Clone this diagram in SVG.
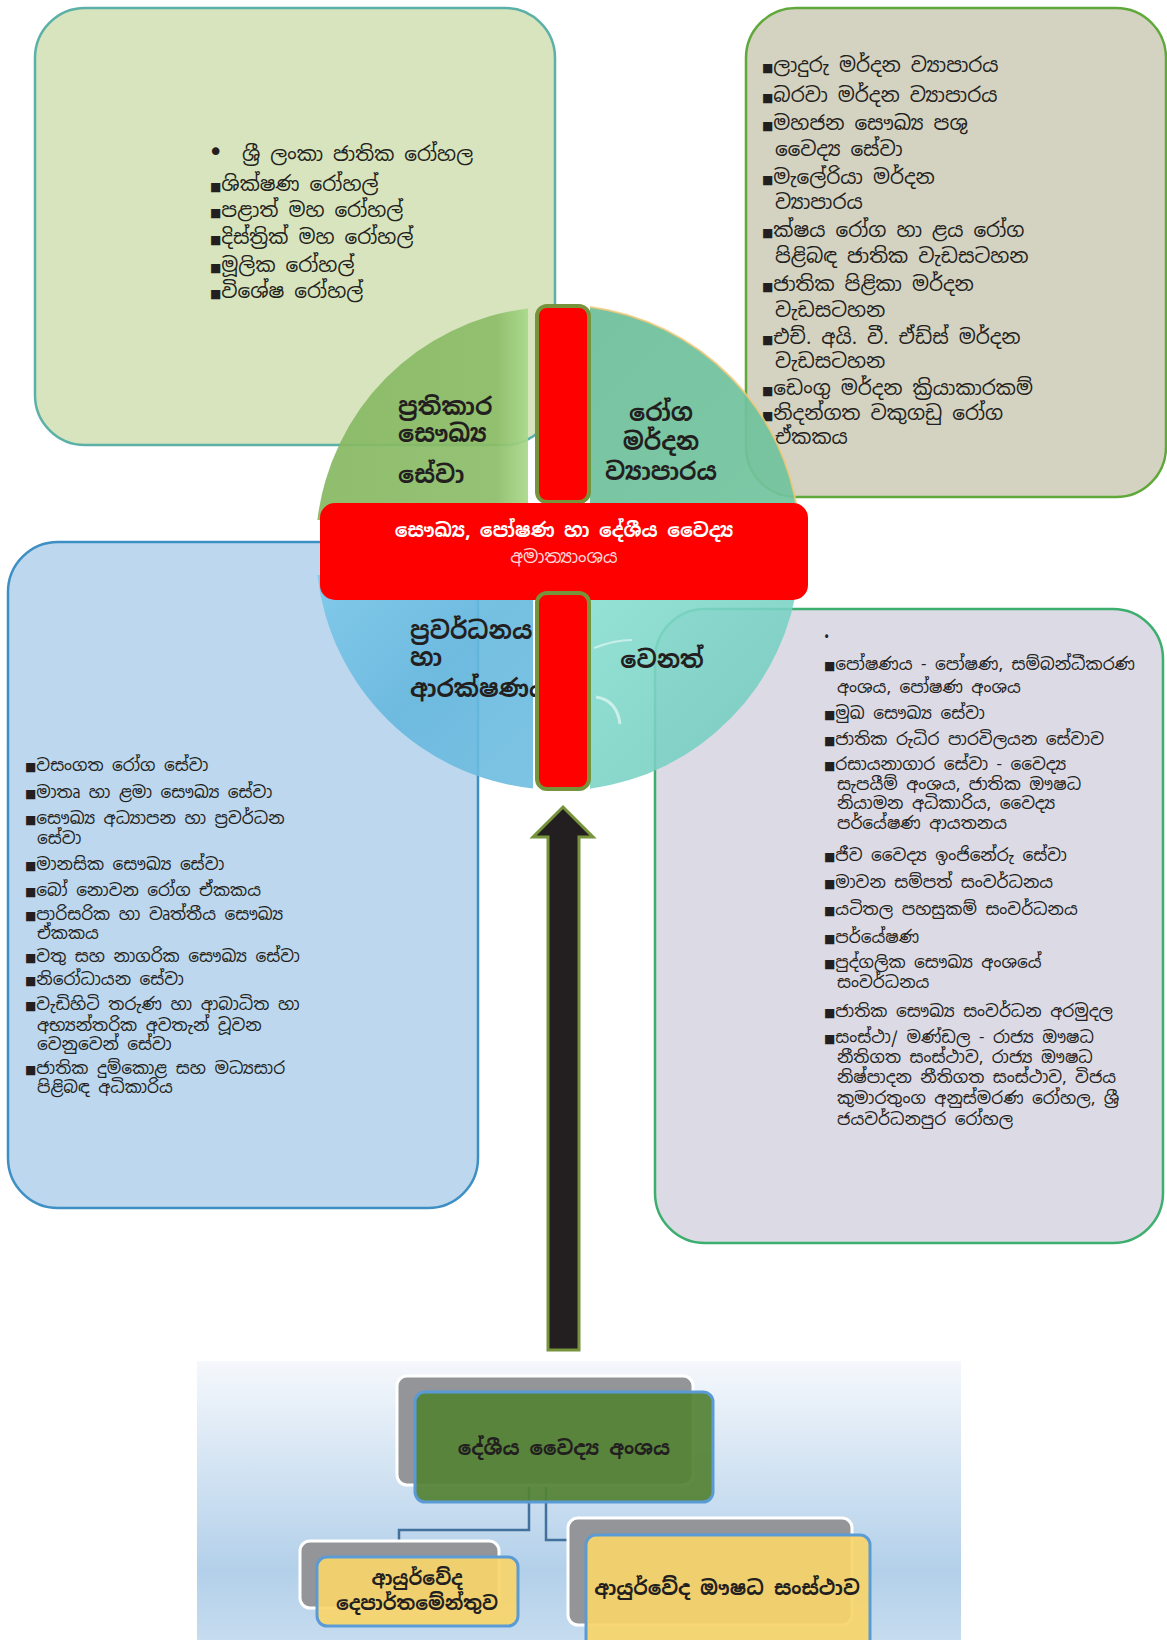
<svg xmlns="http://www.w3.org/2000/svg" width="1167" height="1640" viewBox="0 0 1167 1640">
<style>
.t{font-family:"Noto Sans Sinhala","Iskoola Pota","Noto Sans","DejaVu Sans",sans-serif;fill:#231f20}
.s20{font-size:20px}
.s17{font-size:17px}
.b{font-weight:bold}
.lbl{font-size:24px;font-weight:bold}
.sq{font-size:12px;font-family:"DejaVu Sans",sans-serif}
.conn{fill:none;stroke:#41719c;stroke-width:2.5}
.gray{fill:#939598;stroke:#ffffff;stroke-width:3}
.yel{fill:#f7d46a;fill-opacity:0.93;stroke:#5b9bd5;stroke-width:3}
.vbar{fill:#ff0000;stroke:#77933c;stroke-width:4}
</style>
<defs>
<linearGradient id="bgGrad" x1="0" y1="0" x2="0" y2="1">
<stop offset="0" stop-color="#f5f8fc"/>
<stop offset="0.75" stop-color="#b3d0ea"/>
<stop offset="1" stop-color="#c6dcef"/>
</linearGradient>
<linearGradient id="gTL" x1="0" y1="0" x2="1" y2="0">
<stop offset="0" stop-color="#86b862"/>
<stop offset="0.85" stop-color="#8cbd68"/>
<stop offset="1" stop-color="#a8d98a"/>
</linearGradient>
<linearGradient id="gTR" x1="0" y1="0" x2="1" y2="1">
<stop offset="0" stop-color="#6cbf9a"/>
<stop offset="1" stop-color="#72c49e"/>
</linearGradient>
<linearGradient id="gBL" x1="0" y1="0" x2="1" y2="1">
<stop offset="0" stop-color="#7cc8ea"/>
<stop offset="0.5" stop-color="#66b8de"/>
<stop offset="1" stop-color="#6fbde0"/>
</linearGradient>
<linearGradient id="gBR" x1="0" y1="0" x2="1" y2="1">
<stop offset="0" stop-color="#86ded0"/>
<stop offset="1" stop-color="#6fc8bb"/>
</linearGradient>
</defs>
<rect width="1167" height="1640" fill="#ffffff"/>

<g id="box-curative">
<rect x="35" y="8" width="520" height="437" rx="50" fill="#d7e4bd" stroke="#5bb0a8" stroke-width="2.5"/>
<text class="t s20"><tspan x="208" y="161" font-size="26" font-family="DejaVu Sans, sans-serif">•</tspan><tspan x="242" y="161">ශ්‍රී ලංකා ජාතික රෝහල</tspan></text>
<text class="t s20" x="210" y="191"><tspan class="sq">■</tspan>ශික්ෂණ රෝහල්</text>
<text class="t s20" x="210" y="217"><tspan class="sq">■</tspan>පළාත් මහ රෝහල්</text>
<text class="t s20" x="210" y="244"><tspan class="sq">■</tspan>දිස්ත්‍රික් මහ රෝහල්</text>
<text class="t s20" x="210" y="272"><tspan class="sq">■</tspan>මූලික රෝහල්</text>
<text class="t s20" x="210" y="298"><tspan class="sq">■</tspan>විශේෂ රෝහල්</text>
</g>

<g id="box-disease-control">
<rect x="746" y="8" width="420" height="489" rx="50" fill="#d4d2c0" stroke="#5fa83a" stroke-width="2.5"/>
<text class="t s20" x="762" y="72"><tspan class="sq">■</tspan>ලාදුරු මර්දන ව්‍යාපාරය</text>
<text class="t s20" x="762" y="102"><tspan class="sq">■</tspan>බරවා මර්දන ව්‍යාපාරය</text>
<text class="t s20" x="762" y="130"><tspan class="sq">■</tspan>මහජන සෞඛ්‍ය පශු</text>
<text class="t s20" x="775" y="156">වෛද්‍ය සේවා</text>
<text class="t s20" x="762" y="184"><tspan class="sq">■</tspan>මැලේරියා මර්දන</text>
<text class="t s20" x="775" y="209">ව්‍යාපාරය</text>
<text class="t s20" x="762" y="237"><tspan class="sq">■</tspan>ක්ෂය රෝග හා ළය රෝග</text>
<text class="t s20" x="775" y="263">පිළිබඳ ජාතික වැඩසටහන</text>
<text class="t s20" x="762" y="291"><tspan class="sq">■</tspan>ජාතික පිළිකා මර්දන</text>
<text class="t s20" x="775" y="317">වැඩසටහන</text>
<text class="t s20" x="762" y="344"><tspan class="sq">■</tspan>එච්. අයි. වී. ඒඩ්ස් මර්දන</text>
<text class="t s20" x="775" y="368">වැඩසටහන</text>
<text class="t s20" x="762" y="395"><tspan class="sq">■</tspan>ඩෙංගු මර්දන ක්‍රියාකාරකම්</text>
<text class="t s20" x="762" y="420"><tspan class="sq">■</tspan>නිදන්ගත වකුගඩු රෝග</text>
<text class="t s20" x="775" y="444">ඒකකය</text>
</g>

<g id="box-promotion">
<rect x="8" y="542" width="470" height="666" rx="50" fill="#bdd7ee" stroke="#3d8fc4" stroke-width="2.5"/>
<text class="t s17" x="25" y="771"><tspan class="sq">■</tspan>වසංගත රෝග සේවා</text>
<text class="t s17" x="25" y="798"><tspan class="sq">■</tspan>මාතෘ හා ළමා සෞඛ්‍ය සේවා</text>
<text class="t s17" x="25" y="824"><tspan class="sq">■</tspan>සෞඛ්‍ය අධ්‍යාපන හා ප්‍රවර්ධන</text>
<text class="t s17" x="37" y="844">සේවා</text>
<text class="t s17" x="25" y="870"><tspan class="sq">■</tspan>මානසික සෞඛ්‍ය සේවා</text>
<text class="t s17" x="25" y="896"><tspan class="sq">■</tspan>බෝ නොවන රෝග ඒකකය</text>
<text class="t s17" x="25" y="920"><tspan class="sq">■</tspan>පාරිසරික හා වෘත්තීය සෞඛ්‍ය</text>
<text class="t s17" x="37" y="939">ඒකකය</text>
<text class="t s17" x="25" y="962"><tspan class="sq">■</tspan>වතු සහ නාගරික සෞඛ්‍ය සේවා</text>
<text class="t s17" x="25" y="985"><tspan class="sq">■</tspan>නිරෝධායන සේවා</text>
<text class="t s17" x="25" y="1010"><tspan class="sq">■</tspan>වැඩිහිටි තරුණ හා ආබාධිත හා</text>
<text class="t s17" x="37" y="1031">අභ්‍යන්තරික අවතැන් වූවන</text>
<text class="t s17" x="37" y="1050">වෙනුවෙන් සේවා</text>
<text class="t s17" x="25" y="1074"><tspan class="sq">■</tspan>ජාතික දුම්කොළ සහ මධ්‍යසාර</text>
<text class="t s17" x="37" y="1093">පිළිබඳ අධිකාරිය</text>
</g>

<g id="box-other">
<rect x="655" y="609" width="508" height="634" rx="50" fill="#dcdae5" stroke="#3cae6e" stroke-width="2.5"/>
<text class="t" x="824" y="642" font-size="14">•</text>
<text class="t s17" x="824" y="670"><tspan class="sq">■</tspan>පෝෂණය - පෝෂණ, සම්බන්ධීකරණ</text>
<text class="t s17" x="837" y="693">අංශය, පෝෂණ අංශය</text>
<text class="t s17" x="824" y="719"><tspan class="sq">■</tspan>මුඛ සෞඛ්‍ය සේවා</text>
<text class="t s17" x="824" y="745"><tspan class="sq">■</tspan>ජාතික රුධිර පාරවිලයන සේවාව</text>
<text class="t s17" x="824" y="770"><tspan class="sq">■</tspan>රසායනාගාර සේවා - වෛද්‍ය</text>
<text class="t s17" x="837" y="790">සැපයීම් අංශය, ජාතික ඖෂධ</text>
<text class="t s17" x="837" y="809">නියාමන අධිකාරිය, වෛද්‍ය</text>
<text class="t s17" x="837" y="829">පර්යේෂණ ආයතනය</text>
<text class="t s17" x="824" y="861"><tspan class="sq">■</tspan>ජීව වෛද්‍ය ඉංජිනේරු සේවා</text>
<text class="t s17" x="824" y="888"><tspan class="sq">■</tspan>මාවන සම්පත් සංවර්ධනය</text>
<text class="t s17" x="824" y="915"><tspan class="sq">■</tspan>යටිතල පහසුකම් සංවර්ධනය</text>
<text class="t s17" x="824" y="943"><tspan class="sq">■</tspan>පර්යේෂණ</text>
<text class="t s17" x="824" y="968"><tspan class="sq">■</tspan>පුද්ගලික සෞඛ්‍ය අංශයේ</text>
<text class="t s17" x="837" y="988">සංවර්ධනය</text>
<text class="t s17" x="824" y="1017"><tspan class="sq">■</tspan>ජාතික සෞඛ්‍ය සංවර්ධන අරමුදල</text>
<text class="t s17" x="824" y="1043"><tspan class="sq">■</tspan>සංස්ථා/ මණ්ඩල - රාජ්‍ය ඖෂධ</text>
<text class="t s17" x="837" y="1063">නීතිගත සංස්ථාව, රාජ්‍ය ඖෂධ</text>
<text class="t s17" x="837" y="1083">නිෂ්පාදන නීතිගත සංස්ථාව, විජය</text>
<text class="t s17" x="837" y="1104">කුමාරතුංග අනුස්මරණ රෝහල, ශ්‍රී</text>
<text class="t s17" x="837" y="1125">ජයවර්ධනපුර රෝහල</text>
</g>

<g id="circle-quadrants">
<path d="M528,308.4 A242,242 0 0 0 317.4,520 L528,520 Z" fill="url(#gTL)" fill-opacity="0.92"/>
<path d="M590,306.9 A242,242 0 0 1 798.6,520 L590,520 Z" fill="url(#gTR)" fill-opacity="0.92"/>
<path d="M590,306.9 A242,242 0 0 1 798.6,520" fill="none" stroke="#f2c878" stroke-width="2" stroke-opacity="0.8"/>
<path d="M317.4,575 A242,242 0 0 0 533,788.4 L533,575 Z" fill="url(#gBL)" fill-opacity="0.9"/>
<path d="M798.6,575 A242,242 0 0 1 590,788.7 L590,575 Z" fill="url(#gBR)" fill-opacity="0.88"/>
<path d="M594,648 Q614,640 632,640" fill="none" stroke="#ffffff" stroke-width="2" stroke-opacity="0.5"/>
<path d="M596,697 Q617,700 620,724" fill="none" stroke="#ffffff" stroke-width="3" stroke-opacity="0.55"/>
</g>

<g id="quad-labels">
<text class="t lbl" x="398" y="415">ප්‍රතිකාර</text>
<text class="t lbl" x="398" y="442">සෞඛ්‍ය</text>
<text class="t lbl" x="398" y="483">සේවා</text>
<text class="t lbl" x="661" y="421" text-anchor="middle">රෝග</text>
<text class="t lbl" x="661" y="450" text-anchor="middle">මර්දන</text>
<text class="t lbl" x="661" y="480" text-anchor="middle">ව්‍යාපාරය</text>
<text class="t lbl" x="410" y="639">ප්‍රවර්ධනය</text>
<text class="t lbl" x="410" y="666">හා</text>
<text class="t lbl" x="410" y="697">ආරක්ෂණය</text>
<text class="t lbl" x="662" y="668" text-anchor="middle">වෙනත්</text>
</g>

<g id="ministry">
<rect x="537" y="306" width="52" height="196" rx="10" class="vbar"/>
<rect x="320" y="503" width="488" height="97" rx="15" fill="#ff0000"/>
<rect x="537" y="593" width="52" height="196" rx="10" class="vbar"/>
<text class="t b" x="564" y="537" font-size="19" text-anchor="middle" style="fill:#ffffff">සෞඛ්‍ය, පෝෂණ හා දේශීය වෛද්‍ය</text>
<text class="t" x="564" y="563" font-size="18" text-anchor="middle" style="fill:#ffd8d8">අමාත්‍යාංශය</text>
</g>

<g id="org-panel">
<rect x="197" y="1361" width="764" height="279" fill="url(#bgGrad)"/>
</g>

<g id="connectors">
<path d="M563,807 L593,837 L579,837 L579,1350 L548,1350 L548,837 L533,837 Z" fill="#231f20" stroke="#77933c" stroke-width="3" stroke-linejoin="miter"/>
<path class="conn" d="M529,1487 V1530 H399 V1541"/>
<path class="conn" d="M546,1487 V1540 H568"/>
</g>

<g id="node-desiya">
<rect x="397" y="1376" width="296" height="109" rx="10" class="gray"/>
<rect x="415" y="1392" width="298" height="110" rx="10" fill="#548235" fill-opacity="0.93" stroke="#5b9bd5" stroke-width="3"/>
<text class="t b" x="564" y="1455" font-size="20" text-anchor="middle">දේශීය වෛද්‍ය අංශය</text>
</g>

<g id="node-dept">
<rect x="300" y="1541" width="199" height="67" rx="10" class="gray"/>
<rect x="317" y="1557" width="201" height="69" rx="10" class="yel"/>
<text class="t b" x="417" y="1585" font-size="19" text-anchor="middle">ආයුර්වේද</text>
<text class="t b" x="417" y="1610" font-size="19" text-anchor="middle">දෙපාර්තමේන්තුව</text>
</g>

<g id="node-corp">
<rect x="568" y="1518" width="284" height="107" rx="10" class="gray"/>
<rect x="586" y="1535" width="284" height="115" rx="10" class="yel"/>
<text class="t b" x="727" y="1595" font-size="20" text-anchor="middle">ආයුර්වේද ඖෂධ සංස්ථාව</text>
</g>
</svg>
